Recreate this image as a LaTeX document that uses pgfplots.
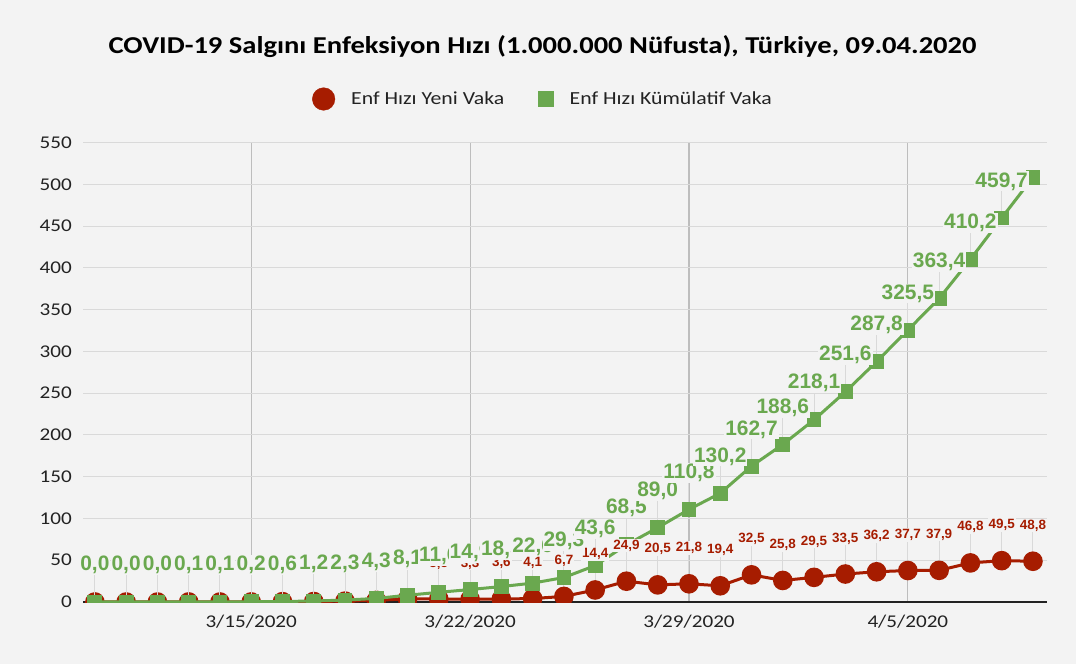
\documentclass[border=0pt]{standalone}
\usepackage{pgfplots}
\pgfplotsset{compat=1.18}
\usepackage{pgfplotstable}
\usepackage{fontspec}
\setmainfont{Carlito}[FakeStretch=1.18]
\newfontfamily\labfont{Liberation Sans}
\definecolor{bg}{HTML}{F3F3F3}
\definecolor{cred}{HTML}{A61C00}
\definecolor{cgreen}{HTML}{6AA84F}
\definecolor{gridc}{HTML}{D9D9D9}
\definecolor{vgrid}{HTML}{BDBDBD}
\definecolor{txt}{HTML}{222222}

\pgfplotstableread{
x y e lab
0 0.0 37 0,0
1 0.0 37 0,0
2 0.0 37 0,0
3 0.1 37 0,1
4 0.0 37 0,0
5 0.1 37 0,1
6 0.4 37 0,4
7 0.6 37 0,6
8 1.1 37 1,1
9 2.0 37 2,0
10 3.8 37 3,8
11 3.5 37 3,5
12 3.3 37 3,3
13 3.6 37 3,6
14 4.1 37 4,1
15 6.7 37 6,7
16 14.4 37 14,4
17 24.9 37 24,9
18 20.5 37 20,5
19 21.8 37 21,8
20 19.4 37 19,4
21 32.5 37 32,5
22 25.8 37 25,8
23 29.5 37 29,5
24 33.5 37 33,5
25 36.2 37 36,2
26 37.7 37 37,7
27 37.9 37 37,9
28 46.8 37 46,8
29 49.5 37 49,5
30 48.8 37 48,8
}\redtab

\pgfplotstableread{
x y e lab
0 0.0 37 0,0
1 0.0 37 0,0
2 0.0 37 0,0
3 0.1 37 0,1
4 0.1 37 0,1
5 0.2 37 0,2
6 0.6 37 0,6
7 1.2 37 1,2
8 2.3 37 2,3
9 4.3 37 4,3
10 8.1 37 8,1
11 11.6 37 11,6
12 14.9 37 14,9
13 18.5 37 18,5
14 22.6 37 22,6
15 29.3 37 29,3
16 43.6 37 43,6
17 68.5 37 68,5
18 89.0 37 89,0
19 110.8 37 110,8
20 130.2 37 130,2
21 162.7 37 162,7
22 188.6 37 188,6
23 218.1 37 218,1
24 251.6 37 251,6
25 287.8 37 287,8
26 325.5 37 325,5
27 363.4 37 363,4
28 410.2 37 410,2
29 459.7 37 459,7
30 508.5 0 {}
}\greentab

\pgfplotsset{
  samegeom/.style={
    at={(83bp,62bp)}, anchor=south west,
    scale only axis, width=964bp, height=459.4bp,
    xmin=-0.38, xmax=30.45, ymin=0, ymax=550},
}

\begin{document}
\begin{tikzpicture}
\useasboundingbox[fill=bg] (0,0) rectangle (1076bp,664bp);
\node[font=\bfseries\fontsize{24.3}{28}\selectfont, text=black] at (542.5bp,617bp) {COVID-19 Salgını Enfeksiyon Hızı (1.000.000 Nüfusta), Türkiye, 09.04.2020};
\begin{axis}[
  samegeom,
  xtick={5,12,19,26},
  xticklabels={3/15/2020,3/22/2020,3/29/2020,4/5/2020},
  ytick={0,50,...,550},
  xmajorgrids, ymajorgrids,
  x grid style={vgrid, line width=1.2bp},
  y grid style={gridc, line width=1bp},
  major tick length=0pt,
  axis x line*=bottom, axis y line*=left,
  x axis line style={txt, line width=1.3bp},
  y axis line style={draw=none},
  tick label style={font=\fontsize{18}{20}\selectfont, text=txt},
  /pgf/number format/assume math mode=true,
  yticklabel style={anchor=east, inner sep=0pt, xshift=-11bp},
  xticklabel style={anchor=north, inner sep=0pt, yshift=-13bp},
  clip marker paths=true,
  legend columns=2,
  legend style={at={(0.4761,1.0949)}, anchor=center, draw=none, fill=none,
    font=\fontsize{18.5}{20}\selectfont, text=txt,
    nodes={inner sep=0pt},
    /tikz/every odd column/.append style={column sep=16bp},
    /tikz/every even column/.append style={column sep=34bp}},
]
\addlegendimage{legend image code/.code={\fill[cred] (0bp,0bp) circle (11.3bp);}}
\addlegendentry{Enf Hızı Yeni Vaka}
\addlegendimage{legend image code/.code={\fill[cgreen] (-7.5bp,-7.5bp) rectangle (7.5bp,7.5bp);}}
\addlegendentry{Enf Hızı Kümülatif Vaka}

\addplot[forget plot, cred, line width=3bp, mark=*, mark size=8.3bp,
  mark options={fill=cred, draw=none},
  error bars/.cd, y dir=plus, y explicit, error mark=none,
  error bar style={line width=1bp, draw=gridc, solid}]
  table[x=x, y=y, y error=e]{\redtab};

\addplot[forget plot, cgreen, line width=3bp, mark=square*, mark size=5.9bp,
  mark options={fill=cgreen, draw=none},
  error bars/.cd, y dir=plus, y explicit, error mark=none,
  error bar style={line width=1bp, draw=gridc, solid}]
  table[x=x, y=y, y error=e]{\greentab};
\end{axis}

\begin{axis}[samegeom, hide axis, clip=false]
\addplot[draw=none, mark=none,
  nodes near coords, point meta=explicit symbolic,
  every node near coord/.append style={font=\labfont\bfseries\fontsize{13.5}{15}\selectfont, text=cred, anchor=base, yshift=32bp, inner sep=1bp, fill=bg}]
  table[x=x, y=y, meta=lab]{\redtab};
\addplot[draw=none, mark=none,
  nodes near coords, point meta=explicit symbolic,
  every node near coord/.append style={font=\labfont\bfseries\fontsize{21}{24}\selectfont, text=cgreen, anchor=base, yshift=31bp, inner sep=1bp, fill=bg}]
  table[x=x, y=y, meta=lab]{\greentab};
\end{axis}
\end{tikzpicture}
\end{document}
